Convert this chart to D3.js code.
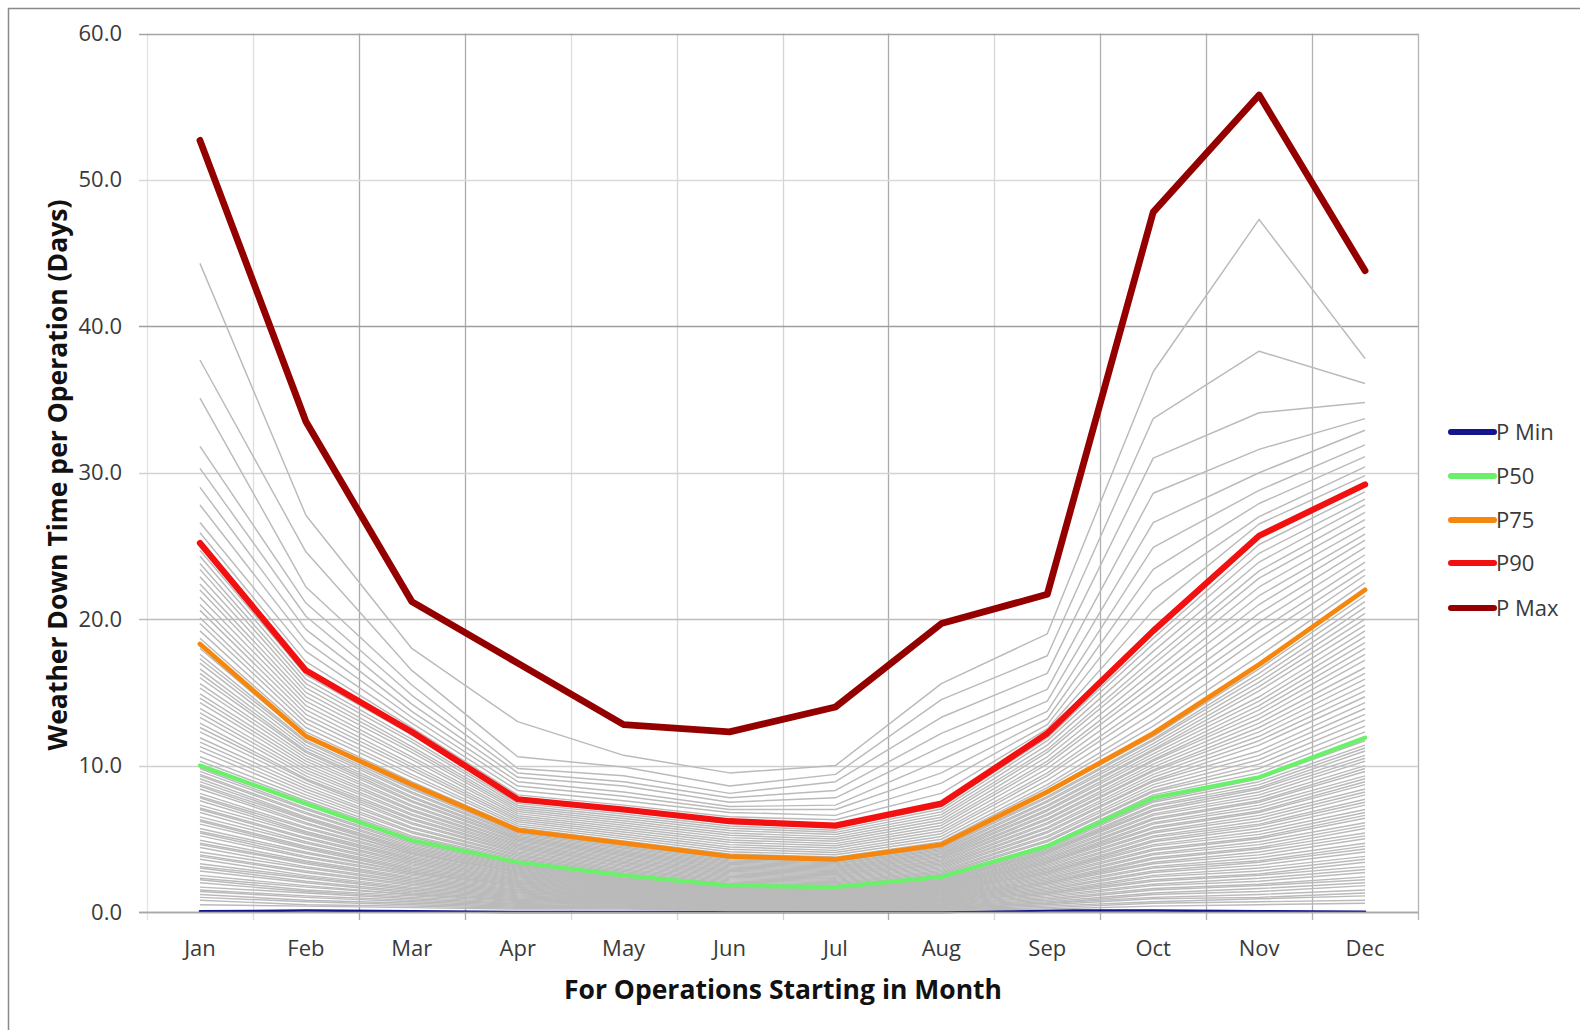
<!DOCTYPE html>
<html>
<head>
<meta charset="utf-8">
<script src="https://cdn.jsdelivr.net/npm/d3@7"></script>
<style>
  html, body { margin: 0; padding: 0; background: #fff; }
  svg { display: block; font-family: "Open Sans", "Noto Sans", sans-serif; }
</style>
</head>
<body>
<svg id="chart" width="1580" height="1030"></svg>
<script>
const months = ["Jan","Feb","Mar","Apr","May","Jun","Jul","Aug","Sep","Oct","Nov","Dec"];
const yTicks = [0, 10, 20, 30, 40, 50, 60];

const pMin = [0.05, 0.1, 0.05, 0.0, 0.0, 0.0, 0.0, 0.0, 0.1, 0.1, 0.05, 0.02];
const p50  = [10.0, 7.4, 4.9, 3.4, 2.5, 1.8, 1.7, 2.4, 4.5, 7.8, 9.2, 11.9];
const p75  = [18.3, 12.0, 8.7, 5.6, 4.7, 3.8, 3.6, 4.6, 8.2, 12.2, 16.9, 22.0];
const p90  = [25.2, 16.5, 12.3, 7.7, 7.0, 6.2, 5.9, 7.4, 12.2, 19.2, 25.7, 29.2];
const pMax = [52.7, 33.5, 21.2, 17.0, 12.8, 12.3, 14.0, 19.7, 21.7, 47.8, 55.8, 43.8];

// Grey percentile lines, per month (ascending). Below P50 (P1..P49)
const greyLow = [
  [0.5,0.8,1.0,1.2,1.4,1.5,1.7,2.0,2.2,2.3,2.5,2.8,3.0,3.1,3.3,3.6,3.8,3.9,4.1,4.4,4.6,4.7,4.9,5.2,5.4,5.5,5.7,6.0,6.2,6.3,6.5,6.8,7.0,7.1,7.3,7.6,7.8,7.9,8.1,8.4,8.6,8.7,8.9,9.1,9.3,9.4,9.6,9.8,9.9],
  [0.4,0.5,0.7,0.8,1.0,1.1,1.3,1.4,1.5,1.7,1.8,2.0,2.1,2.3,2.4,2.5,2.7,2.8,3.0,3.1,3.3,3.4,3.5,3.7,3.8,4.0,4.1,4.3,4.4,4.5,4.7,4.8,5.0,5.1,5.3,5.4,5.5,5.7,5.8,6.0,6.1,6.3,6.4,6.5,6.7,6.8,7.0,7.1,7.3],
  [0.3,0.4,0.5,0.6,0.7,0.8,0.9,1.0,1.1,1.2,1.2,1.3,1.4,1.5,1.6,1.7,1.8,1.9,2.0,2.1,2.2,2.3,2.4,2.5,2.6,2.7,2.7,2.8,2.9,3.0,3.1,3.2,3.3,3.4,3.5,3.6,3.7,3.8,3.9,4.0,4.0,4.1,4.2,4.3,4.4,4.5,4.6,4.7,4.8],
  [0.20,0.26,0.33,0.39,0.46,0.52,0.59,0.65,0.72,0.78,0.85,0.91,0.98,1.04,1.11,1.17,1.24,1.30,1.37,1.43,1.50,1.56,1.63,1.69,1.76,1.82,1.89,1.95,2.02,2.08,2.15,2.21,2.28,2.34,2.41,2.47,2.54,2.60,2.67,2.73,2.80,2.86,2.93,2.99,3.06,3.12,3.19,3.25,3.32],
  [0.20,0.25,0.29,0.34,0.38,0.43,0.47,0.52,0.56,0.61,0.65,0.70,0.74,0.79,0.83,0.88,0.92,0.97,1.01,1.06,1.10,1.15,1.19,1.24,1.28,1.33,1.37,1.42,1.46,1.51,1.55,1.60,1.64,1.69,1.73,1.78,1.82,1.87,1.91,1.96,2.00,2.05,2.09,2.14,2.18,2.23,2.27,2.32,2.40],
  [0.10,0.13,0.17,0.20,0.24,0.27,0.31,0.34,0.38,0.41,0.44,0.48,0.51,0.55,0.58,0.62,0.65,0.69,0.72,0.75,0.79,0.82,0.86,0.89,0.93,0.96,1.00,1.03,1.06,1.10,1.13,1.17,1.20,1.24,1.27,1.31,1.34,1.37,1.41,1.44,1.48,1.51,1.55,1.58,1.62,1.65,1.68,1.72,1.76],
  [0.10,0.13,0.16,0.19,0.23,0.26,0.29,0.32,0.35,0.39,0.42,0.45,0.48,0.51,0.55,0.58,0.61,0.64,0.67,0.71,0.74,0.77,0.80,0.83,0.87,0.90,0.93,0.96,0.99,1.03,1.06,1.09,1.12,1.15,1.19,1.22,1.25,1.28,1.31,1.35,1.38,1.41,1.44,1.47,1.51,1.54,1.57,1.60,1.65],
  [0.10,0.15,0.19,0.24,0.28,0.33,0.37,0.42,0.46,0.51,0.55,0.60,0.64,0.69,0.73,0.78,0.82,0.87,0.91,0.96,1.00,1.05,1.09,1.14,1.18,1.23,1.27,1.32,1.36,1.41,1.45,1.50,1.54,1.59,1.63,1.68,1.72,1.77,1.81,1.86,1.90,1.95,1.99,2.04,2.08,2.13,2.17,2.22,2.30],
  [0.2,0.3,0.4,0.5,0.6,0.6,0.7,0.8,0.9,1.0,1.1,1.2,1.3,1.3,1.4,1.5,1.6,1.7,1.8,1.9,2.0,2.0,2.1,2.2,2.3,2.4,2.5,2.6,2.7,2.7,2.8,2.9,3.0,3.1,3.2,3.3,3.4,3.4,3.5,3.6,3.7,3.8,3.9,4.0,4.1,4.1,4.2,4.3,4.4],
  [0.4,0.6,0.7,0.9,1.0,1.2,1.3,1.5,1.6,1.8,1.9,2.1,2.2,2.4,2.5,2.7,2.8,3.0,3.1,3.3,3.4,3.6,3.7,3.9,4.0,4.2,4.3,4.5,4.6,4.8,4.9,5.1,5.2,5.4,5.5,5.7,5.8,6.0,6.1,6.3,6.4,6.6,6.7,6.9,7.0,7.2,7.3,7.5,7.6],
  [0.5,0.7,0.9,1.0,1.2,1.4,1.6,1.8,1.9,2.1,2.3,2.5,2.6,2.8,3.0,3.2,3.4,3.5,3.7,3.9,4.1,4.3,4.4,4.6,4.8,5.0,5.1,5.3,5.5,5.7,5.9,6.0,6.2,6.4,6.6,6.8,6.9,7.1,7.3,7.5,7.6,7.8,8.0,8.2,8.4,8.5,8.7,8.9,9.1],
  [0.6,0.8,1.1,1.3,1.5,1.8,2.0,2.2,2.4,2.7,2.9,3.1,3.4,3.6,3.8,4.1,4.3,4.5,4.7,5.0,5.2,5.4,5.7,5.9,6.1,6.4,6.6,6.8,7.0,7.3,7.5,7.7,8.0,8.2,8.4,8.7,8.9,9.1,9.3,9.6,9.8,10.0,10.3,10.5,10.7,11.0,11.2,11.4,11.7]
];
// P51..P74
const greyMid = [
  [10.3,10.6,11.0,11.3,11.6,11.9,12.3,12.6,12.9,13.3,13.6,13.9,14.3,14.6,14.9,15.3,15.6,16.0,16.3,16.6,17.0,17.3,17.6,18.0],
  [7.6,7.8,8.0,8.2,8.4,8.6,8.8,9.0,9.1,9.3,9.5,9.7,9.9,10.1,10.3,10.5,10.7,10.9,11.0,11.2,11.4,11.6,11.7,11.9],
  [5.1,5.2,5.4,5.5,5.7,5.8,6.0,6.1,6.3,6.4,6.6,6.7,6.9,7.0,7.2,7.3,7.5,7.6,7.8,7.9,8.1,8.2,8.4,8.5],
  [3.49,3.58,3.66,3.75,3.84,3.93,4.02,4.10,4.19,4.28,4.37,4.46,4.54,4.63,4.72,4.81,4.90,4.98,5.07,5.16,5.25,5.34,5.42,5.51],
  [2.59,2.68,2.76,2.85,2.94,3.03,3.12,3.20,3.29,3.38,3.47,3.56,3.64,3.73,3.82,3.91,4.00,4.08,4.17,4.26,4.35,4.44,4.52,4.61],
  [1.88,1.96,2.04,2.12,2.20,2.28,2.36,2.44,2.52,2.60,2.68,2.76,2.84,2.92,3.00,3.08,3.16,3.24,3.32,3.40,3.48,3.56,3.64,3.72],
  [1.78,1.85,1.93,2.00,2.08,2.16,2.23,2.31,2.38,2.46,2.54,2.61,2.69,2.76,2.84,2.92,2.99,3.07,3.14,3.22,3.30,3.37,3.45,3.52],
  [2.49,2.58,2.66,2.75,2.84,2.93,3.02,3.10,3.19,3.28,3.37,3.46,3.54,3.63,3.72,3.81,3.90,3.98,4.07,4.16,4.25,4.34,4.42,4.51],
  [4.6,4.8,4.9,5.1,5.2,5.4,5.5,5.7,5.8,6.0,6.1,6.3,6.4,6.6,6.7,6.9,7.0,7.2,7.3,7.5,7.6,7.8,7.9,8.1],
  [8.0,8.2,8.3,8.5,8.7,8.9,9.0,9.2,9.4,9.6,9.7,9.9,10.1,10.3,10.4,10.6,10.8,11.0,11.1,11.3,11.5,11.7,11.8,12.0],
  [9.5,9.8,10.1,10.4,10.7,11.0,11.4,11.7,12.0,12.3,12.6,12.9,13.2,13.5,13.8,14.1,14.4,14.7,15.1,15.4,15.7,16.0,16.3,16.6],
  [12.3,12.7,13.1,13.5,13.9,14.3,14.7,15.1,15.5,15.9,16.3,16.7,17.2,17.6,18.0,18.4,18.8,19.2,19.6,20.0,20.4,20.8,21.2,21.6]
];
// P76..P89
const greyHigh = [
  [18.7,19.2,19.7,20.1,20.6,21.0,21.5,22.0,22.4,22.9,23.4,23.8,24.3,24.7],
  [12.3,12.6,12.9,13.2,13.5,13.8,14.1,14.4,14.7,15.0,15.3,15.6,15.9,16.2],
  [8.9,9.2,9.4,9.7,9.9,10.1,10.4,10.6,10.9,11.1,11.3,11.6,11.8,12.1],
  [5.74,5.88,6.02,6.16,6.30,6.44,6.58,6.72,6.86,7.00,7.14,7.28,7.42,7.56],
  [4.85,5.01,5.16,5.31,5.47,5.62,5.77,5.93,6.08,6.23,6.39,6.54,6.69,6.85],
  [3.96,4.12,4.28,4.44,4.60,4.76,4.92,5.08,5.24,5.40,5.56,5.72,5.88,6.04],
  [3.75,3.91,4.06,4.21,4.37,4.52,4.67,4.83,4.98,5.13,5.29,5.44,5.59,5.75],
  [4.79,4.97,5.16,5.35,5.53,5.72,5.91,6.09,6.28,6.47,6.65,6.84,7.03,7.21],
  [8.5,8.7,9.0,9.3,9.5,9.8,10.1,10.3,10.6,10.9,11.1,11.4,11.7,11.9],
  [12.7,13.1,13.6,14.1,14.5,15.0,15.5,15.9,16.4,16.9,17.3,17.8,18.3,18.7],
  [17.5,18.1,18.7,19.2,19.8,20.4,21.0,21.6,22.2,22.8,23.3,23.9,24.5,25.1],
  [22.5,23.0,23.4,23.9,24.4,24.9,25.4,25.8,26.3,26.8,27.3,27.8,28.2,28.7]
];
// P91..P99
const greyTop = [
  [25.9,26.6,27.8,29.0,30.3,31.8,35.1,37.7,44.3],
  [17.1,17.8,18.5,19.3,20.2,21.1,22.2,24.6,27.1],
  [12.6,12.9,13.3,13.7,14.2,14.8,15.5,16.5,18.0],
  [8.0,8.3,8.6,8.9,9.2,9.5,9.8,10.6,13.0],
  [7.3,7.6,7.9,8.2,8.6,8.9,9.3,9.9,10.7],
  [6.5,6.8,7.0,7.2,7.5,7.8,8.1,8.6,9.5],
  [6.3,6.6,7.0,7.3,7.8,8.3,8.9,9.4,10.0],
  [8.1,8.8,9.5,10.4,11.3,12.2,13.3,14.5,15.6],
  [12.5,12.8,13.2,13.7,14.4,15.2,16.3,17.5,19.0],
  [20.6,22.0,23.4,24.9,26.6,28.6,31.0,33.7,36.9],
  [26.5,27.0,27.9,28.8,30.0,31.6,34.1,38.3,47.3],
  [29.8,30.4,31.1,31.9,32.9,33.7,34.8,36.1,37.8]
];

const seriesNames = ["P Min", "P50", "P75", "P90", "P Max"];
const seriesValues = [pMin, p50, p75, p90, pMax];

// ---- styles ----
const seriesColors = ["#14148c", "#6af06a", "#f5870f", "#f21010", "#940000"];
const seriesWidths = [2.5, 4.2, 4.8, 6.2, 6.8];
const vGridShade = ["#e4e4e4","#dedede","#a9a9a9","#ababab","#dcdcdc","#d6d6d6","#d4d4d4","#ababab","#d8d8d8","#b0b0b0","#b0b0b0","#b2b2b2","#b4b4b4"];
const hGridShade = {0:"#a8a8a8",10:"#cfcfcf",20:"#bdbdbd",30:"#d2d2d2",40:"#9e9e9e",50:"#dadada",60:"#a4a4a4"};

const svg = d3.select("#chart");
const plot = {left: 147, right: 1418, top: 33.5, bottom: 912};

// outer frame
svg.append("rect").attr("x", 8.5).attr("y", 8.5).attr("width", 1600).attr("height", 1100)
  .attr("fill", "none").attr("stroke", "#8a8a8a").attr("stroke-width", 1.5);

const x = d3.scaleBand().domain(months).range([plot.left, plot.right]).paddingInner(0).paddingOuter(0);
const xc = m => x(m) + x.bandwidth() / 2;
const y = d3.scaleLinear().domain([0, 60]).range([plot.bottom, plot.top]);

// vertical gridlines at category boundaries
const bounds = months.map(m => x(m)).concat([plot.right]);
svg.append("g").selectAll("line").data(bounds).join("line")
  .attr("x1", d => Math.round(d) + 0.5).attr("x2", d => Math.round(d) + 0.5)
  .attr("y1", plot.top).attr("y2", plot.bottom + 8)
  .attr("stroke", (d, i) => vGridShade[i]).attr("stroke-width", 1.3);

// horizontal gridlines
svg.append("g").selectAll("line").data(yTicks).join("line")
  .attr("x1", plot.left - 8).attr("x2", plot.right)
  .attr("y1", d => Math.round(y(d)) + 0.5).attr("y2", d => Math.round(y(d)) + 0.5)
  .attr("stroke", d => hGridShade[d]).attr("stroke-width", 1.5);

// y axis labels
const yAxis = d3.axisLeft(y).tickValues(yTicks).tickFormat(d3.format(".1f")).tickSize(8).tickPadding(17);
const gy = svg.append("g").attr("transform", `translate(${plot.left},0)`).call(yAxis);
gy.select(".domain").remove();
gy.selectAll(".tick line").remove();
gy.selectAll("text").attr("fill", "#3a3a3a").style("font-size", "22px").attr("font-family", "Open Sans");

// x axis labels
const xAxis = d3.axisBottom(x).tickSize(0).tickPadding(0);
const gx = svg.append("g").attr("transform", `translate(0,${plot.bottom})`).call(xAxis);
gx.select(".domain").remove();
gx.selectAll("text").attr("y", 36).attr("dy", "0.35em").attr("fill", "#3a3a3a")
  .style("font-size", "22px").attr("font-family", "Open Sans");

const line = d3.line().x(d => xc(d.m)).y(d => y(d.v));

// P Min beneath grey
const toPts = arr => months.map((m, i) => ({m, v: arr[i]}));
svg.append("path").datum(toPts(pMin)).attr("d", line)
  .attr("fill", "none").attr("stroke", seriesColors[0]).attr("stroke-width", seriesWidths[0])
  .attr("stroke-linecap", "round").attr("stroke-linejoin", "round");

// grey percentile lines
const greyByMonth = months.map((m, i) => greyLow[i].concat(greyMid[i], greyHigh[i], greyTop[i]));
const nGrey = greyByMonth[0].length;
const greyLines = d3.range(nGrey).map(k => months.map((m, i) => ({m, v: greyByMonth[i][k]})));
svg.append("g").selectAll("path").data(greyLines).join("path")
  .attr("d", line).attr("fill", "none").attr("stroke", "#bababa").attr("stroke-width", 1.45)
  .attr("stroke-linejoin", "round");

// highlighted series
[1, 2, 3, 4].forEach(i => {
  svg.append("path").datum(toPts(seriesValues[i])).attr("d", line)
    .attr("fill", "none").attr("stroke", seriesColors[i]).attr("stroke-width", seriesWidths[i])
    .attr("stroke-linecap", "round").attr("stroke-linejoin", "round");
});

// bottom axis line
svg.append("line").attr("x1", plot.left - 8).attr("x2", plot.right)
  .attr("y1", plot.bottom + 0.5).attr("y2", plot.bottom + 0.5)
  .attr("stroke", "#a8a8a8").attr("stroke-width", 1.5);

// axis titles
svg.append("text").attr("x", 783).attr("y", 990).attr("text-anchor", "middle").attr("dy", "0.35em")
  .style("font-size", "26.5px").style("font-weight", "bold").attr("fill", "#111")
  .text("For Operations Starting in Month");
svg.append("text").attr("transform", "translate(58,475) rotate(-90)").attr("text-anchor", "middle").attr("dy", "0.35em")
  .style("font-size", "26.5px").style("font-weight", "bold").attr("fill", "#111")
  .text("Weather Down Time per Operation (Days)");

// legend
const legend = svg.append("g");
const legY = [432, 476, 520, 563, 608];
seriesNames.forEach((name, i) => {
  legend.append("line").attr("x1", 1451).attr("x2", 1494).attr("y1", legY[i]).attr("y2", legY[i])
    .attr("stroke", seriesColors[i]).attr("stroke-width", 6).attr("stroke-linecap", "round");
  legend.append("text").attr("x", 1496).attr("y", legY[i]).attr("dy", "0.35em")
    .style("font-size", "22px").attr("fill", "#3a3a3a").text(name);
});
</script>
</body>
</html>
